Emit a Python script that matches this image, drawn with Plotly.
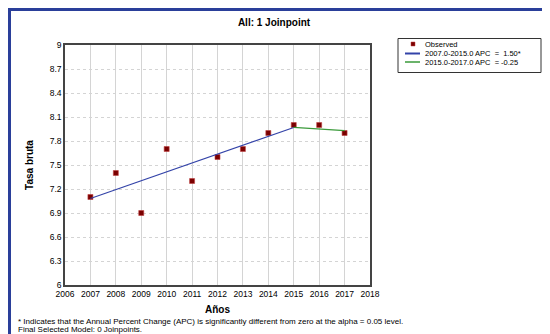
import plotly.graph_objects as go

# Data
years = [2007, 2008, 2009, 2010, 2011, 2012, 2013, 2014, 2015, 2016, 2017]
observed = [7.1, 7.4, 6.9, 7.7, 7.3, 7.6, 7.7, 7.9, 8.0, 8.0, 7.9]
seg1_x = [2007, 2015]
seg1_y = [7.08, 7.97]
seg2_x = [2015, 2017]
seg2_y = [7.97, 7.93]
x_ticks = list(range(2006, 2019))
y_ticks = [6, 6.3, 6.6, 6.9, 7.2, 7.5, 7.8, 8.1, 8.4, 8.7, 9]
legend_labels = ["Observed", "2007.0-2015.0 APC  =  1.50*", "2015.0-2017.0 APC  = -0.25"]

W, H = 550, 334
L, R, T, B = 57, 362, 37, 277

def px(x):
    return (x - L) / (R - L)

def py(y):
    return (B - y) / (B - T)

FONT = "Liberation Sans"
C_MARK = "#7a0000"
C_BLUE = "#3343a8"
C_GREEN = "#3a9a3a"

fig = go.Figure()
fig.add_trace(go.Scatter(
    x=years, y=observed, mode="markers", name=legend_labels[0],
    marker=dict(symbol="square", size=5, color=C_MARK,
                line=dict(color="#c04040", width=0.6)),
))
fig.add_trace(go.Scatter(
    x=seg1_x, y=seg1_y, mode="lines", name=legend_labels[1],
    line=dict(color=C_BLUE, width=1.1),
))
fig.add_trace(go.Scatter(
    x=seg2_x, y=seg2_y, mode="lines", name=legend_labels[2],
    line=dict(color=C_GREEN, width=1.1),
))

shapes = [
    # outer blue frame
    dict(type="rect", xref="paper", yref="paper",
         x0=px(1.5), x1=px(547.5), y0=py(330.5), y1=py(1.5),
         line=dict(color="#2a3f9a", width=3), layer="below"),
    # legend box
    dict(type="rect", xref="paper", yref="paper",
         x0=px(390), x1=px(533), y0=py(64.5), y1=py(30.5),
         line=dict(color="#333", width=1), fillcolor="white", layer="above"),
    # legend marker
    dict(type="rect", xref="paper", yref="paper",
         x0=px(403), x1=px(407), y0=py(38), y1=py(34),
         line=dict(color="#c04040", width=0.5), fillcolor=C_MARK, layer="above"),
    # legend lines
    dict(type="line", xref="paper", yref="paper",
         x0=px(397), x1=px(412), y0=py(45.5), y1=py(45.5),
         line=dict(color=C_BLUE, width=2), layer="above"),
    dict(type="line", xref="paper", yref="paper",
         x0=px(397), x1=px(412), y0=py(54), y1=py(54),
         line=dict(color=C_GREEN, width=1.5), layer="above"),
]

annotations = [
    dict(text="* Indicates that the Annual Percent Change (APC) is significantly different from zero at the alpha = 0.05 level.",
         xref="paper", yref="paper", x=px(8), y=py(313), xanchor="left", yanchor="middle",
         showarrow=False, font=dict(family=FONT, size=8, color="#000")),
    dict(text="Final Selected Model: 0 Joinpoints.",
         xref="paper", yref="paper", x=px(8), y=py(321.5), xanchor="left", yanchor="middle",
         showarrow=False, font=dict(family=FONT, size=8, color="#000")),
]
for lab, yy in zip(legend_labels, [36.5, 45.5, 54.5]):
    annotations.append(dict(
        text=lab.replace("  ", "\u00a0\u00a0"), xref="paper", yref="paper",
        x=px(416), y=py(yy), xanchor="left", yanchor="middle", borderpad=0,
        showarrow=False, font=dict(family=FONT, size=7.5, color="#000")))

fig.update_layout(
    width=W, height=H,
    margin=dict(l=L, r=W - R, t=T, b=H - B),
    paper_bgcolor="white", plot_bgcolor="white",
    showlegend=False,
    title=dict(text="<b>All: 1 Joinpoint</b>", x=266 / W, xanchor="center",
               y=1 - 14 / H, yanchor="middle", xref="container", yref="container",
               font=dict(family=FONT, size=10, color="#000")),
    shapes=shapes,
    annotations=annotations,
)

fig.update_xaxes(
    range=[2006, 2018], tickmode="array", tickvals=x_ticks,
    ticktext=[str(t) for t in x_ticks],
    showgrid=True, gridcolor="#d4d4d4", gridwidth=1,
    showline=True, linecolor="#444", linewidth=1.5, mirror=True,
    ticks="", zeroline=False,
    tickfont=dict(family=FONT, size=8.5, color="#000"),
    title=dict(text="<b>Años</b>", font=dict(family=FONT, size=10, color="#000"), standoff=8),
)
fig.update_yaxes(
    range=[6, 9], tickmode="array", tickvals=y_ticks,
    ticktext=[("%g" % t) for t in y_ticks],
    showgrid=True, gridcolor="#d4d4d4", gridwidth=1, griddash="dot",
    showline=True, linecolor="#444", linewidth=1.5, mirror=True,
    ticks="", zeroline=False,
    tickfont=dict(family=FONT, size=8.5, color="#000"),
    title=dict(text="<b>Tasa bruta</b>", font=dict(family=FONT, size=10, color="#000"), standoff=14),
)

fig.write_html("out.html")
